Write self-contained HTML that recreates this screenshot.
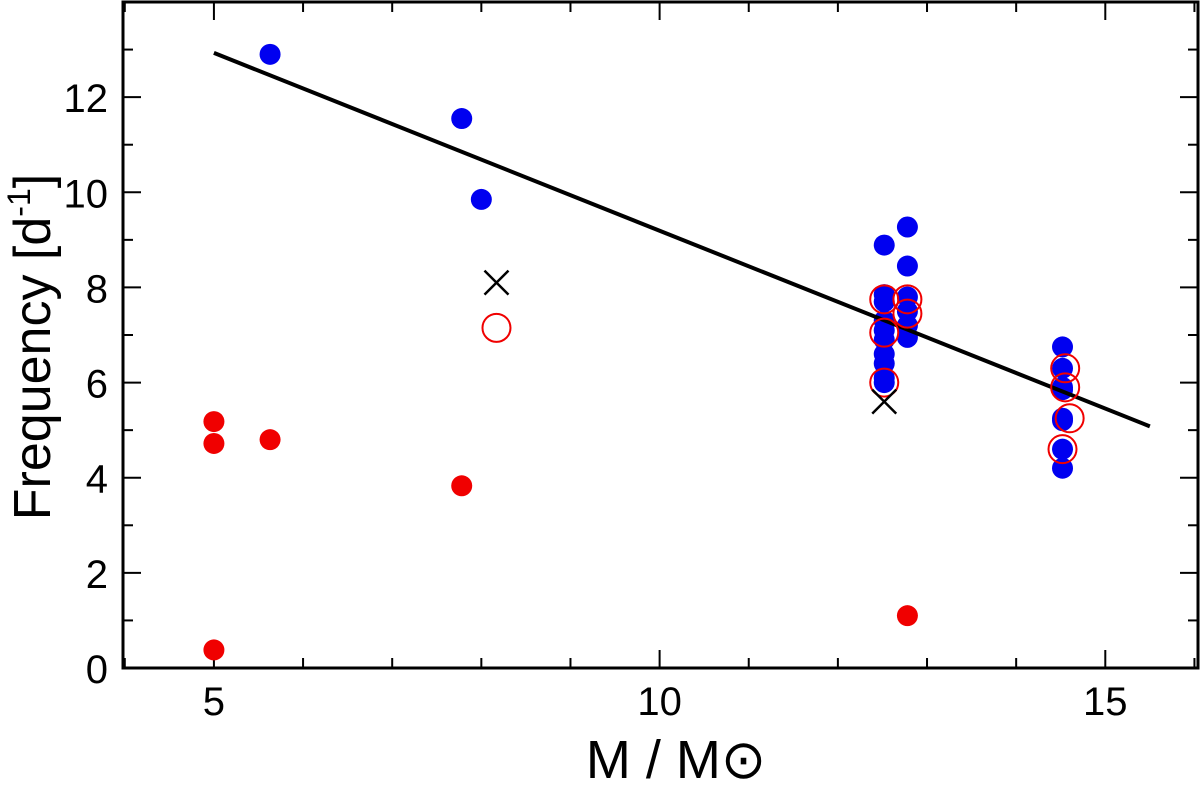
<!DOCTYPE html>
<html><head><meta charset="utf-8"><style>
body{margin:0;background:#fff;}
svg text{font-family:"Liberation Sans",sans-serif;fill:#000;}
</style></head><body>
<svg id="chart" width="1200" height="794"></svg>
<script>
const blueX=[5.63,7.78,8.0,12.52,12.52,12.52,12.52,12.52,12.52,12.52,12.52,12.52,12.52,12.78,12.78,12.78,12.78,12.78,12.78,14.52,14.52,14.52,14.52,14.52,14.52,14.52,14.52];
const blueY=[12.9,11.55,9.85,8.89,7.85,7.7,7.3,7.1,6.9,6.6,6.4,6.1,6.0,9.27,8.45,7.8,7.5,7.2,6.95,6.75,6.3,5.9,5.85,5.25,5.2,4.6,4.2];
const redX=[5,5,5,5.63,7.78,12.78];
const redY=[5.18,4.72,0.38,4.8,3.83,1.1];
const ringX=[8.17,12.52,12.52,12.52,12.78,12.78,14.55,14.55,14.6,14.52];
const ringY=[7.15,7.75,7.05,6.0,7.75,7.45,6.3,5.9,5.25,4.6];
const crossX=[8.17,12.52];
const crossY=[8.1,5.6];
const fitX=[5,15.5];
const fitY=[12.93,5.08];
const xTicks=[5,10,15];
const yTicks=[0,2,4,6,8,10,12];
const L=123,R=1198,T=2,B=668,x0=3.98,x1=16.04,y0=0,y1=14.0;
const sx=v=>L+(v-x0)/(x1-x0)*(R-L);
const sy=v=>B-(v-y0)/(y1-y0)*(B-T);
const svg=document.getElementById('chart');const NS='http://www.w3.org/2000/svg';
function mk(t,a,p){const e=document.createElementNS(NS,t);for(const k in a)e.setAttribute(k,a[k]);(p||svg).appendChild(e);return e;}
let e;
e=mk('rect',{x:L,y:T,width:R-L,height:B-T,fill:'none',stroke:'#000','stroke-width':3});


for(let v=4;v<=16;v++){const major=v%5===0;
 e=mk('line',{x1:sx(v),x2:sx(v),y1:B,y2:B-(major?18:10),stroke:'#000','stroke-width':2});
 
 
 e=mk('line',{x1:sx(v),x2:sx(v),y1:T,y2:T+(major?18:10),stroke:'#000','stroke-width':2});
 
 }
xTicks.forEach(v=>{e=mk('text',{x:sx(v),y:715,'font-size':40,'text-anchor':'middle'});e.textContent=v;
 
 });
for(let v=0;v<=14;v++){const major=v%2===0;
 e=mk('line',{x1:L,x2:L+(major?18:10),y1:sy(v),y2:sy(v),stroke:'#000','stroke-width':2});
 
 
 e=mk('line',{x1:R,x2:R-(major?18:10),y1:sy(v),y2:sy(v),stroke:'#000','stroke-width':2});
 
 }
yTicks.forEach(v=>{e=mk('text',{x:108,y:sy(v)+15,'font-size':40,'text-anchor':'end'});e.textContent=v;
 
 });
e=mk('text',{x:676,y:778,'font-size':54,'text-anchor':'middle'});e.textContent='M / M\u2299';


e=mk('text',{x:0,y:0,'font-size':52,'text-anchor':'middle',transform:'translate(50,347) rotate(-90)'});
e.innerHTML='Frequency [d<tspan font-size="32" dy="-20">-1</tspan><tspan dy="20">]</tspan>';


blueX.forEach((x,i)=>{e=mk('circle',{cx:sx(x),cy:sy(blueY[i]),r:10.5,fill:'#0000f0'});
 
 });
redX.forEach((x,i)=>{e=mk('circle',{cx:sx(x),cy:sy(redY[i]),r:10.5,fill:'#f00000'});
 
 });
e=mk('line',{x1:sx(fitX[0]),y1:sy(fitY[0]),x2:sx(fitX[1]),y2:sy(fitY[1]),stroke:'#000','stroke-width':4});


ringX.forEach((x,i)=>{e=mk('circle',{cx:sx(x),cy:sy(ringY[i]),r:14,fill:'none',stroke:'#f00000','stroke-width':2});
 
 });
crossX.forEach((x,i)=>{const cx=sx(x),cy=sy(crossY[i]),d=12;
 e=mk('path',{d:`M${cx-d},${cy-d}L${cx+d},${cy+d}M${cx-d},${cy+d}L${cx+d},${cy-d}`,stroke:'#000','stroke-width':2.5,fill:'none'});
 
 });
</script>
</body></html>
